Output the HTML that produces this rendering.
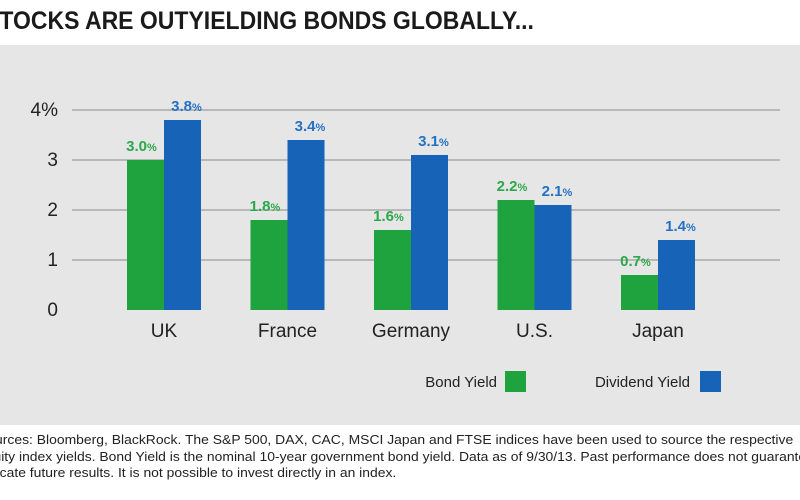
<!DOCTYPE html>
<html><head><meta charset="utf-8"><style>
body{margin:0;width:800px;height:500px;background:#fff;overflow:hidden;font-family:"Liberation Sans",sans-serif;}
#title{position:absolute;left:-16px;top:7px;font-size:25px;font-weight:bold;color:#1a1a1a;white-space:nowrap;transform:scaleX(0.92);transform-origin:0 0;}
#panel{position:absolute;left:0;top:45px;width:800px;height:380px;background:#e6e6e6;}
#foot{position:absolute;left:-22px;top:432px;font-size:13px;line-height:16.5px;color:#222;white-space:nowrap;transform:scaleX(1.07);transform-origin:0 0;}
</style></head><body>
<div id="title">STOCKS ARE OUTYIELDING BONDS GLOBALLY...</div>
<div id="panel"></div>
<svg id="chart" width="800" height="500" style="position:absolute;left:0;top:0"></svg>
<div id="foot">Sources: Bloomberg, BlackRock. The S&amp;P 500, DAX, CAC, MSCI Japan and FTSE indices have been used to source the respective<br>equity index yields. Bond Yield is the nominal 10-year government bond yield. Data as of 9/30/13. Past performance does not guarantee or<br>indicate future results. It is not possible to invest directly in an index.</div>
<script>
const categories=["UK","France","Germany","U.S.","Japan"];
const bondYield=[3.0,1.8,1.6,2.2,0.7];
const dividendYield=[3.8,3.4,3.1,2.1,1.4];
const yTicks=[0,1,2,3,4];
const yTickLabels=["0","1","2","3","4%"];
const NS="http://www.w3.org/2000/svg";
const svg=document.getElementById('chart');
const y=v=>310-v*50;
const xg=i=>127+i*123.5;
const bw=37;
function mk(t,a,txt){const e=document.createElementNS(NS,t);for(const k in a)e.setAttribute(k,a[k]);if(txt!==undefined)e.textContent=txt;svg.appendChild(e);return e;}
yTicks.forEach((t,i)=>{
 if(t>0){const l=mk('line',{x1:72,x2:780,y1:y(t),y2:y(t),stroke:'#8a8a8a','stroke-width':1});
 
 }
 const tx=mk('text',{x:58,y:y(t)+6,'text-anchor':'end','font-size':19,fill:'#222'},yTickLabels[i]);
 
 
});
categories.forEach((c,i)=>{
 const x=xg(i);
 const g=mk('rect',{x:x,y:y(bondYield[i]),width:bw,height:y(0)-y(bondYield[i]),fill:'#1ea33f'});
 
 
 const b=mk('rect',{x:x+bw,y:y(dividendYield[i]),width:bw,height:y(0)-y(dividendYield[i]),fill:'#1663b8'});
 
 
 const gl=mk('text',{x:x+bw/2-4,y:y(bondYield[i])-9,'text-anchor':'middle','font-size':15,'font-weight':'bold',fill:'#2ba84a'});
 gl.innerHTML=bondYield[i].toFixed(1)+'<tspan font-size="11">%</tspan>';
 
 
 const bl=mk('text',{x:x+bw*1.5+4,y:y(dividendYield[i])-9,'text-anchor':'middle','font-size':15,'font-weight':'bold',fill:'#2471c4'});
 bl.innerHTML=dividendYield[i].toFixed(1)+'<tspan font-size="11">%</tspan>';
 
 
 const cl=mk('text',{x:x+bw,y:337,'text-anchor':'middle','font-size':19,fill:'#222'},c);
 
 
});
const l1=mk('text',{x:497,y:387,'text-anchor':'end','font-size':15,fill:'#222'},'Bond Yield');


const s1=mk('rect',{x:505,y:371,width:21,height:21,fill:'#1ea33f'});


const l2=mk('text',{x:690,y:387,'text-anchor':'end','font-size':15,fill:'#222'},'Dividend Yield');


const s2=mk('rect',{x:700,y:371,width:21,height:21,fill:'#1663b8'});


</script>
</body></html>
